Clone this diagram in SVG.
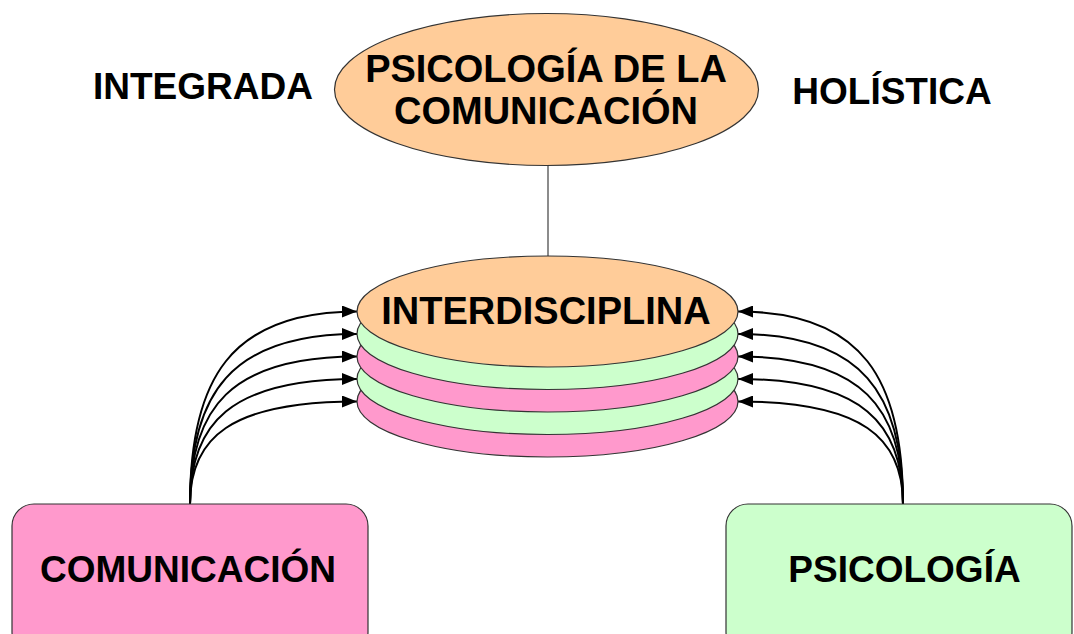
<svg xmlns="http://www.w3.org/2000/svg" width="1074" height="634" viewBox="0 0 1074 634">
<style>
text{font-family:"Liberation Sans",Arial,sans-serif;font-weight:bold;fill:#000;text-anchor:middle}
.t38{font-size:38px}
.t37{font-size:37px}
.node{stroke:#333;stroke-width:1.2}
.orange{fill:#FFCC99}
.green{fill:#CCFFCC}
.pink{fill:#FF99CC}
.conn{fill:none;stroke:#000;stroke-width:2}
.line{stroke:#666;stroke-width:1.5}
</style>
<defs>
<marker id="arr" markerUnits="userSpaceOnUse" markerWidth="16" markerHeight="12" refX="15" refY="6" orient="auto">
<path d="M0,0 L15,6 L0,12 Z" fill="#000"/>
</marker>
</defs>
<rect width="1074" height="634" fill="#fff"/>

<g id="label-integrada"><text class="t37" x="203" y="99">INTEGRADA</text></g>
<g id="label-holistica"><text class="t37" x="892" y="104">HOLÍSTICA</text></g>

<g id="connectors">
<line class="line" x1="548" y1="166" x2="548" y2="256"/>
<path class="conn" marker-end="url(#arr)" d="M190,504 C190,380 230,311.5 357,311.5"/>
<path class="conn" marker-end="url(#arr)" d="M190,504 C190,395 230,334 357,334"/>
<path class="conn" marker-end="url(#arr)" d="M190,504 C190,409 230,356.5 357,356.5"/>
<path class="conn" marker-end="url(#arr)" d="M190,504 C190,424 230,379 357,379"/>
<path class="conn" marker-end="url(#arr)" d="M190,504 C190,438 230,401.5 357,401.5"/>
<path class="conn" marker-end="url(#arr)" d="M903,504 C903,380 863,311.5 738,311.5"/>
<path class="conn" marker-end="url(#arr)" d="M903,504 C903,395 863,334 738,334"/>
<path class="conn" marker-end="url(#arr)" d="M903,504 C903,409 863,356.5 738,356.5"/>
<path class="conn" marker-end="url(#arr)" d="M903,504 C903,424 863,379 738,379"/>
<path class="conn" marker-end="url(#arr)" d="M903,504 C903,438 863,401.5 738,401.5"/>
</g>

<g id="psicologia-de-la-comunicacion">
<ellipse class="node orange" cx="546.5" cy="89.5" rx="212" ry="76"/>
<text class="t38" x="546" y="82">PSICOLOGÍA DE LA</text>
<text class="t38" x="546" y="124">COMUNICACIÓN</text>
</g>

<g id="interdisciplina">
<ellipse class="node pink" cx="547.5" cy="401.5" rx="190.5" ry="55.5"/>
<ellipse class="node green" cx="547.5" cy="379" rx="190.5" ry="55.5"/>
<ellipse class="node pink" cx="547.5" cy="356.5" rx="190.5" ry="55.5"/>
<ellipse class="node green" cx="547.5" cy="334" rx="190.5" ry="55.5"/>
<ellipse class="node orange" cx="547.5" cy="311.5" rx="190.5" ry="55.5"/>
<text class="t38" x="546" y="324">INTERDISCIPLINA</text>
</g>

<g id="comunicacion">
<rect class="node pink" x="12" y="504" width="356" height="150" rx="22" ry="22"/>
<text class="t37" x="188" y="582">COMUNICACIÓN</text>
</g>

<g id="psicologia">
<rect class="node green" x="726" y="504" width="346" height="150" rx="22" ry="22"/>
<text class="t37" x="904.5" y="582">PSICOLOGÍA</text>
</g>
</svg>
